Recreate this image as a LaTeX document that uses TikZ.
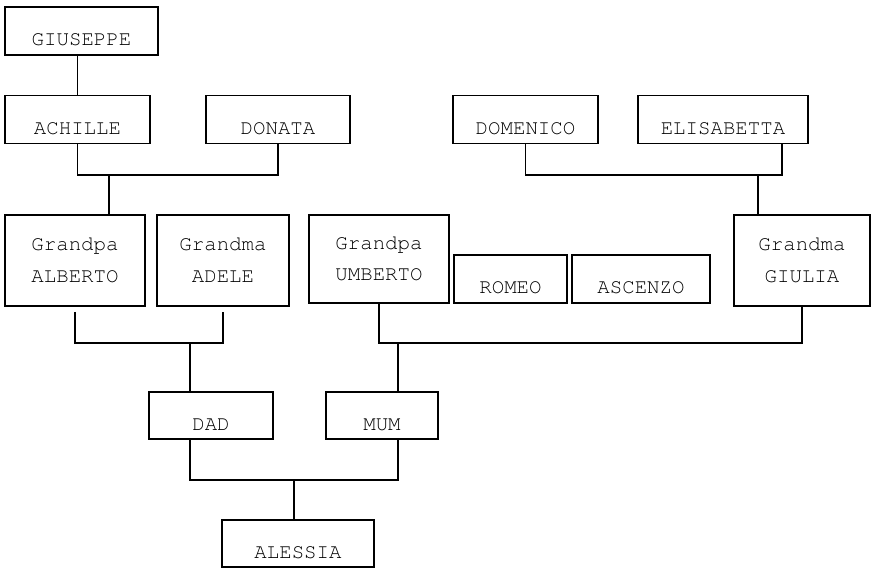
\documentclass[tikz,border=0pt]{standalone}
\usepackage{fontspec}
\setmonofont{texgyrecursor-regular.otf}

\begin{document}
\begin{tikzpicture}[
mybox/.style={draw, rectangle, line width=1pt, inner sep=0pt, font=\ttfamily\fontsize{11.8}{18}\selectfont}, % my basic box style
single/.style={mybox, minimum height=0.96cm, text height=16.9pt, text depth=0pt}, % one name only
double/.style={mybox, minimum height=1.82cm, align=center}, % grandparents, two lines
link/.style={line width=1pt} % family lines
]

\useasboundingbox (0,0) rectangle (17.46,-11.42);

\node[single, minimum width=3.06cm] (giuseppe) at (1.63,-0.62) {GIUSEPPE};
\node[single, minimum width=2.9cm] (achille) at (1.55,-2.39) {ACHILLE};
\node[single, minimum width=2.88cm] (donata) at (5.56,-2.39) {DONATA};
\node[single, minimum width=2.9cm] (domenico) at (10.51,-2.39) {DOMENICO};
\node[single, minimum width=3.4cm] (elisabetta) at (14.46,-2.39) {ELISABETTA};

\node[double, minimum width=2.8cm] (alberto) at (1.5,-5.21) {Grandpa\\ALBERTO};
\node[double, minimum width=2.64cm] (adele) at (4.46,-5.21) {Grandma\\ADELE};
\node[double, minimum width=2.8cm, minimum height=1.76cm] (umberto) at (7.58,-5.18) {Grandpa\\UMBERTO};
\node[single, minimum width=2.26cm] (romeo) at (10.21,-5.58) {ROMEO};
\node[single, minimum width=2.76cm] (ascenzo) at (12.82,-5.58) {ASCENZO};
\node[double, minimum width=2.72cm] (giulia) at (16.04,-5.21) {Grandma\\GIULIA};

\node[single, minimum width=2.48cm, minimum height=0.94cm] (dad) at (4.22,-8.31) {DAD};
\node[single, minimum width=2.24cm, minimum height=0.94cm] (mum) at (7.64,-8.31) {MUM};
\node[single, minimum width=3.04cm, minimum height=0.94cm] (alessia) at (5.96,-10.87) {ALESSIA};

% junctions
\coordinate (j1) at (2.18,-3.5);
\coordinate (j2) at (15.16,-3.5);
\coordinate (j3) at (3.8,-6.86);
\coordinate (j4) at (7.96,-6.86);
\coordinate (j5) at (5.88,-9.6);
\coordinate (lisa) at ([xshift=1.18cm]elisabetta.south);

\draw[link] (giuseppe.south -| achille.north) -- (achille.north);
\draw[link] (achille.south) |- (j1) -| (donata.south);
\draw[link] (j1) -- (j1 |- alberto.north);
\draw[link] (domenico.south) |- (j2) -| (lisa);
\draw[link] (j2) -- (j2 |- giulia.north);
\draw[link, shorten <=0.1cm, shorten >=0.1cm] (alberto.south) |- (j3) -| (adele.south);
\draw[link] (j3) -- (j3 |- dad.north);
\draw[link] (umberto.south) |- (j4) -| (giulia.south);
\draw[link] (j4) -- (j4 |- mum.north);
\draw[link] (dad.south -| j3) |- (j5) -| (mum.south -| j4);
\draw[link] (j5) -- (j5 |- alessia.north);

\end{tikzpicture}
\end{document}
